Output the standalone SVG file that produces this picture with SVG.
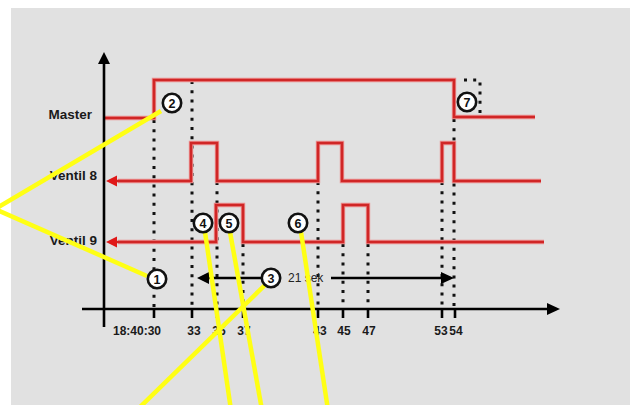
<svg xmlns="http://www.w3.org/2000/svg" width="630" height="405" viewBox="0 0 630 405">
<style>
.sig{fill:none;stroke:#d02626;stroke-width:2.6;stroke-linejoin:miter}
.halo{fill:none;stroke:#ec9090;stroke-width:4.4}
.dot{fill:none;stroke:#111;stroke-width:3;stroke-dasharray:3 6.2}
.ax{fill:none;stroke:#000;stroke-width:2.6}
.yl{fill:none;stroke:#ffff14;stroke-width:4.5;stroke-linejoin:miter}
.lbl{font-family:"Liberation Sans",Arial,sans-serif;font-weight:bold;font-size:13.5px;fill:#1a1a1a}
.tk{font-family:"Liberation Sans",Arial,sans-serif;font-weight:bold;font-size:12px;fill:#1a1a1a;text-anchor:middle}
.num circle{fill:#fff;stroke:#111;stroke-width:2.6}
.num text{font-family:"Liberation Sans",Arial,sans-serif;font-weight:bold;font-size:12.5px;fill:#111;text-anchor:middle}
</style>
<rect x="0" y="0" width="630" height="405" fill="#fff"/>
<rect x="11" y="8" width="619" height="397" fill="#e1e1e1"/>

<g id="labels">
<text class="lbl" x="92" y="119" text-anchor="end">Master</text>
<text class="lbl" x="97" y="180" text-anchor="end">Ventil 8</text>
<text class="lbl" x="97" y="245" text-anchor="end">Ventil 9</text>
</g>

<g id="dotted">
<path class="dot" d="M154,120 V309"/>
<path class="dot" d="M192,81 V309"/>
<path class="dot" d="M217,182 V309"/>
<path class="dot" d="M243,244 V309"/>
<path class="dot" d="M318,182 V309"/>
<path class="dot" d="M343,244 V309"/>
<path class="dot" d="M368,244 V309"/>
<path class="dot" d="M442,182 V309"/>
<path class="dot" d="M454,119 V309"/>
<path class="dot" d="M464,80 H480 V118"/>
</g>

<g id="signals">
<path class="halo" d="M105,118 H154 V80 H454 V117 H535"/>
<path class="sig" d="M105,118 H154 V80 H454 V117 H535"/>
<path class="halo" d="M118,181 H191 V143 H217 V181 H318 V143 H342 V181 H442 V143 H454 V181 H541"/>
<path class="sig" d="M116,181 H191 V143 H217 V181 H318 V143 H342 V181 H442 V143 H454 V181 H541"/>
<path class="halo" d="M118,242 H216 V205 H243 V242 H343 V205 H368 V242 H544"/>
<path class="sig" d="M116,242 H216 V205 H243 V242 H343 V205 H368 V242 H544"/>
<path d="M106,181 L117,175.5 L117,186.5 z" fill="#e01818"/>
<path d="M106,242 L117,236.5 L117,247.5 z" fill="#e01818"/>
</g>

<g id="axes">
<path class="ax" d="M104,327 V62"/>
<path d="M104,52 L98,64 L110,64 z" fill="#000"/>
<path class="ax" d="M82,309 H548"/>
<path d="M560,309 L547,303 L547,315 z" fill="#000"/>
<path class="ax" d="M154,309 V318 M192,309 V318 M217,309 V318 M243,309 V318 M318,309 V318 M343,309 V318 M368,309 V318 M442,309 V318 M455,309 V318"/>
</g>

<g id="ticklabels">
<text class="tk" x="137" y="335">18:40:30</text>
<text class="tk" x="194" y="335">33</text>
<text class="tk" x="219" y="335">35</text>
<text class="tk" x="244" y="335">37</text>
<text class="tk" x="320" y="335">43</text>
<text class="tk" x="344" y="335">45</text>
<text class="tk" x="369" y="335">47</text>
<text class="tk" x="441" y="335">53</text>
<text class="tk" x="456" y="335">54</text>
</g>

<g id="duration">
<path d="M197,278 L209,272 L209,284 z" fill="#000"/>
<path class="ax" d="M208,278 H264"/>
<path class="ax" d="M331,278 H443"/>
<path d="M454,278 L441,272 L441,284 z" fill="#000"/>
<text x="288" y="282" font-family="Liberation Sans,Arial,sans-serif" font-size="12" fill="#222">21 sek</text>
</g>

<g id="connectors">
<path class="yl" d="M161,111 L-5,209 L147,276"/>
<path class="yl" d="M265,285 L137,410"/>
<path class="yl" d="M205,232 L231,410"/>
<path class="yl" d="M230,232 L262,410"/>
<path class="yl" d="M301,232 L328,410"/>
</g>

<g id="n1" class="num"><circle cx="157" cy="279" r="9.2"/><text x="157" y="283.5">1</text></g>
<g id="n2" class="num"><circle cx="172" cy="103" r="9.2"/><text x="172" y="107.5">2</text></g>
<g id="n3" class="num"><circle cx="271" cy="278" r="9.2"/><text x="271" y="282.5">3</text></g>
<g id="n4" class="num"><circle cx="203" cy="223" r="9.2"/><text x="203" y="227.5">4</text></g>
<g id="n5" class="num"><circle cx="229" cy="223" r="9.2"/><text x="229" y="227.5">5</text></g>
<g id="n6" class="num"><circle cx="298" cy="223" r="9.2"/><text x="298" y="227.5">6</text></g>
<g id="n7" class="num"><circle cx="467" cy="102" r="9.2"/><text x="467" y="106.5">7</text></g>
</svg>
